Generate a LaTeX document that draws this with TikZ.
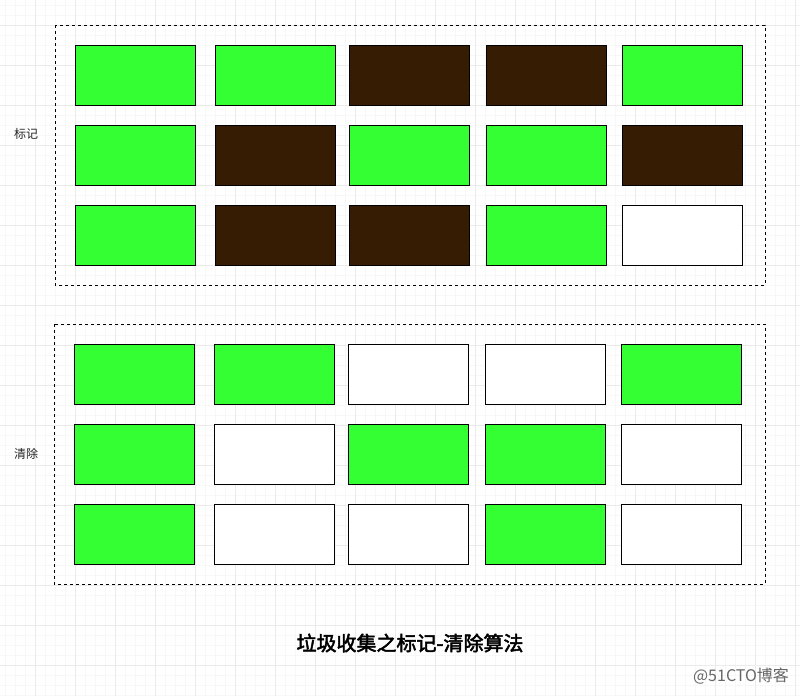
\documentclass[tikz,border=0pt]{standalone}
\usepackage{fontspec}
\newfontfamily\cjk{Noto Sans CJK SC}
\newfontfamily\cjkbold{Noto Sans CJK SC}[FakeBold=2.5]

\definecolor{live}{HTML}{33FF33}
\definecolor{dead}{HTML}{361C02}
\definecolor{gridminor}{HTML}{F7F7F7}
\definecolor{gridmajor}{HTML}{EBEBEB}

\tikzset{
  cell/.style={draw=black, line width=1pt, minimum width=120pt, minimum height=60pt,
    inner sep=0pt, anchor=north west},
  frame/.style={draw=black, line width=1pt, dash pattern=on 3pt off 3pt},
  sidelabel/.style={font=\cjk\fontsize{12}{14}\selectfont, text=black!85}
}

\begin{document}
\begin{tikzpicture}[x=1pt,y=-1pt]
\useasboundingbox (0,0) rectangle (800,696);
\fill[white] (0,0) rectangle (800,696);

% grid
\foreach \g in {5,15,...,795} \draw[gridminor, line width=0.8pt] (\g,0) -- (\g,696);
\foreach \g in {5,15,...,695} \draw[gridminor, line width=0.8pt] (0,\g) -- (800,\g);
\foreach \g in {35,75,...,795} \draw[gridmajor, line width=1pt] (\g,0) -- (\g,696);
\foreach \g in {25,65,...,695} \draw[gridmajor, line width=1pt] (0,\g) -- (800,\g);

% mark phase
\draw[frame] (55,25) rectangle (765,285);
\foreach \r/\y/\cols in {1/45/{live,live,dead,dead,live},
                         2/125/{live,dead,live,live,dead},
                         3/205/{live,dead,dead,live,white}}
  \foreach \f [count=\c] in \cols {
    \pgfmathsetmacro\x{{75,215,349,486,622}[\c-1]}
    \node[cell, fill=\f] (m\r\c) at (\x,\y) {};
  }
\node[sidelabel] (marklabel) at (26,134) {标记};

% sweep phase
\draw[frame] (54,324) rectangle (765,584);
\foreach \r/\y/\cols in {1/344/{live,live,white,white,live},
                         2/424/{live,white,live,live,white},
                         3/504/{live,white,white,live,white}}
  \foreach \f [count=\c] in \cols {
    \pgfmathsetmacro\x{{74,214,348,485,621}[\c-1]}
    \node[cell, fill=\f] (s\r\c) at (\x,\y) {};
  }
\node[sidelabel] (sweeplabel) at (26,454) {清除};

\node[font=\cjkbold\fontsize{20}{24}\selectfont] (title) at (410,643) {垃圾收集之标记-清除算法};
\node[font=\cjk\fontsize{16}{18}\selectfont, text=black!60] (mark) at (741,676) {@51CTO博客};
\end{tikzpicture}
\end{document}
